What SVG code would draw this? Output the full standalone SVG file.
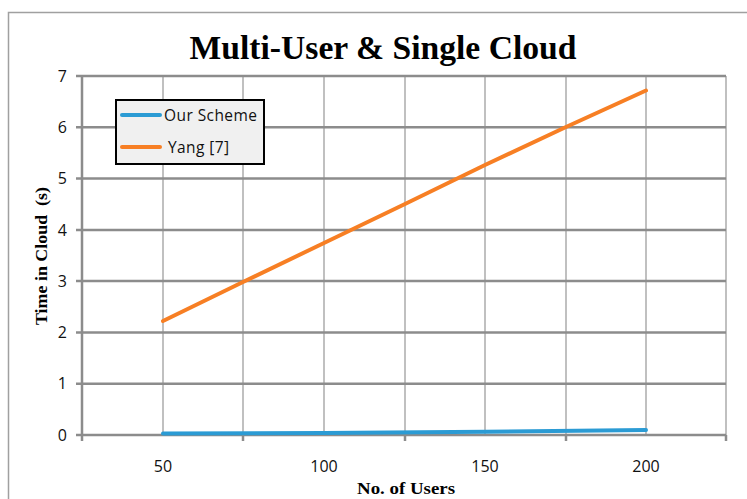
<svg xmlns="http://www.w3.org/2000/svg" width="747" height="499" viewBox="0 0 747 499">
<style>
.tick{font-family:"Open Sans","Liberation Sans",sans-serif;font-size:16px;fill:#111}
.ttl{font-family:"Liberation Serif","Times New Roman",serif;font-weight:bold;fill:#000}
.hg{stroke:#8c8c8c;stroke-width:2.5}
.vg{stroke:#c0c0c0;stroke-width:2}
.leg{font-family:"Open Sans","Liberation Sans",sans-serif;font-size:15.5px;fill:#111}
</style>
<rect x="0" y="0" width="747" height="499" fill="#fff"/>
<path d="M8.5 499 V12.5 H760" fill="none" stroke="#a0a0a0" stroke-width="1.5"/>
<text class="ttl" x="383" y="59" font-size="34" text-anchor="middle" textLength="387" lengthAdjust="spacingAndGlyphs">Multi-User &amp; Single Cloud</text>
<g id="grid">
<g class="vg">
<line x1="163" y1="76" x2="163" y2="435"/>
<line x1="243" y1="76" x2="243" y2="435"/>
<line x1="324" y1="76" x2="324" y2="435"/>
<line x1="405" y1="76" x2="405" y2="435"/>
<line x1="485" y1="76" x2="485" y2="435"/>
<line x1="566" y1="76" x2="566" y2="435"/>
<line x1="646" y1="76" x2="646" y2="435"/>
<line x1="726" y1="76" x2="726" y2="435"/>
</g>
<g class="hg">
<line x1="76" y1="76" x2="726" y2="76"/>
<line x1="76" y1="127.3" x2="726" y2="127.3"/>
<line x1="76" y1="178.6" x2="726" y2="178.6"/>
<line x1="76" y1="229.9" x2="726" y2="229.9"/>
<line x1="76" y1="281.1" x2="726" y2="281.1"/>
<line x1="76" y1="332.4" x2="726" y2="332.4"/>
<line x1="76" y1="383.7" x2="726" y2="383.7"/>
<line x1="76" y1="435" x2="726" y2="435"/>
<line x1="82" y1="76" x2="82" y2="435"/>
<line x1="82" y1="435" x2="82" y2="441"/>
<line x1="243" y1="435" x2="243" y2="441"/>
<line x1="405" y1="435" x2="405" y2="441"/>
<line x1="566" y1="435" x2="566" y2="441"/>
<line x1="726" y1="435" x2="726" y2="441"/>
</g>
</g>
<g id="yticks" class="tick" text-anchor="end">
<text x="67" y="82">7</text>
<text x="67" y="133">6</text>
<text x="67" y="184">5</text>
<text x="67" y="236">4</text>
<text x="67" y="287">3</text>
<text x="67" y="338">2</text>
<text x="67" y="389">1</text>
<text x="67" y="441">0</text>
</g>
<g id="xticks" class="tick" text-anchor="middle">
<text x="163" y="472">50</text>
<text x="324" y="472">100</text>
<text x="485" y="472">150</text>
<text x="646" y="472">200</text>
</g>
<text class="ttl" x="406" y="494" font-size="17.5" text-anchor="middle" textLength="98" lengthAdjust="spacingAndGlyphs">No. of Users</text>
<text class="ttl" transform="translate(47,256) rotate(-90)" font-size="17.5" text-anchor="middle" xml:space="preserve" textLength="138" lengthAdjust="spacingAndGlyphs">Time in Cloud  (s)</text>
<g id="connectors" fill="none" stroke-width="4" stroke-linecap="round" stroke-linejoin="round">
<polyline id="yang" stroke="#f77f24" points="163,321 243,282 324,243 405,204 485,165 566,127 646,90.5"/>
<polyline id="ours" stroke="#2b9bd4" points="163,433.5 324,433 485,431.8 646,430"/>
</g>
<g id="legend">
<rect x="116" y="100" width="148" height="64" fill="#f0f0f0" stroke="#000" stroke-width="2"/>
<line x1="122" y1="115" x2="160" y2="115" stroke="#2b9bd4" stroke-width="4" stroke-linecap="round"/>
<line x1="122" y1="147" x2="160" y2="147" stroke="#f77f24" stroke-width="4" stroke-linecap="round"/>
<text class="leg" x="164" y="121" textLength="93" lengthAdjust="spacing">Our Scheme</text>
<text class="leg" x="168" y="153" textLength="61" lengthAdjust="spacing">Yang [7]</text>
</g>
</svg>
